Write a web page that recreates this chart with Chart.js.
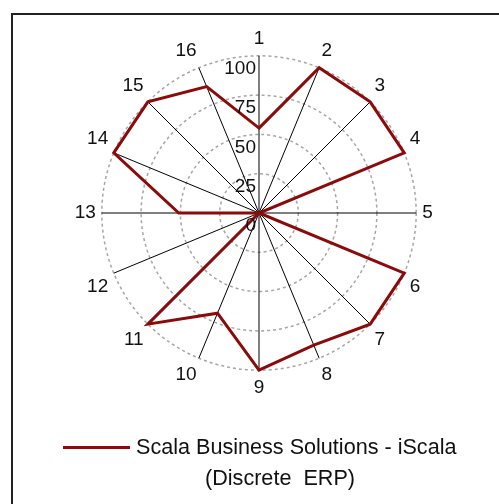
<!DOCTYPE html>
<html>
<head>
<meta charset="utf-8">
<script src="https://cdn.jsdelivr.net/npm/chart.js@4/dist/chart.umd.min.js"></script>
<style>
  html, body { margin: 0; padding: 0; background: #fff; }
  #wrap { position: relative; width: 499px; height: 504px; overflow: hidden; font-family: "Liberation Sans", Arial, sans-serif; }
  #frame { position: absolute; left: 11px; top: 13px; width: 600px; height: 600px; border: 2px solid #222; box-sizing: border-box; }
  canvas { position: absolute; left: 0; top: 0; }
  #leg1 { position: absolute; left: 63px; top: 433px; white-space: pre; font-size: 21.6px; color: #111; line-height: 28px; }
  #leg1 .swatch { display: inline-block; width: 67px; height: 3px; background: #8b0a0a; vertical-align: middle; margin-right: 6px; position: relative; top: -1px; }
  #leg2 { position: absolute; left: 205px; top: 464px; white-space: pre; font-size: 21.6px; color: #111; line-height: 28px; }
</style>
</head>
<body>
<div id="wrap">
  <div id="frame"></div>
  <canvas id="c" width="499" height="504"></canvas>
  <div id="leg1"><span class="swatch"></span><span id="legText1"></span></div>
  <div id="leg2"></div>
</div>
<script>
const categories = ["1","2","3","4","5","6","7","8","9","10","11","12","13","14","15","16"];
const seriesName = "Scala Business Solutions - iScala";
const seriesNameLine2 = "(Discrete  ERP)";
const iScalaValues = [54, 100, 100, 100, 0, 100, 100, 91, 100, 69, 100, 0, 51, 100, 100, 87];
const tickValues = [0, 25, 50, 75, 100];

document.getElementById('legText1').textContent = seriesName;
document.getElementById('leg2').textContent = seriesNameLine2;

const tickLabelPlugin = {
  id: 'tickLabels',
  afterDatasetsDraw(chart) {
    const s = chart.scales.r;
    const ctx = chart.ctx;
    ctx.save();
    ctx.font = '19px "Liberation Sans", Arial, sans-serif';
    ctx.fillStyle = '#111';
    ctx.textAlign = 'right';
    ctx.textBaseline = 'middle';
    tickValues.forEach(v => {
      const d = s.getDistanceFromCenterForValue(v);
      ctx.fillText(String(v), s.xCenter - 3, s.yCenter - d + 13);
    });
    ctx.restore();
  }
};

new Chart(document.getElementById('c'), {
  type: 'radar',
  data: {
    labels: categories,
    datasets: [{
      label: seriesName,
      data: iScalaValues,
      borderColor: '#8b0a0a',
      borderWidth: 3,
      fill: false,
      pointRadius: 0,
      pointHoverRadius: 0,
      tension: 0
    }]
  },
  options: {
    responsive: false,
    animation: false,
    devicePixelRatio: 1,
    layout: { padding: { left: 66, right: 57, top: 28, bottom: 104 } },
    plugins: { legend: { display: false }, tooltip: { enabled: false } },
    scales: {
      r: {
        min: 0,
        max: 100,
        startAngle: 0,
        ticks: { display: false, stepSize: 25 },
        grid: { circular: true, color: '#a6a6a6', lineWidth: 1.5 },
        border: { dash: [3, 3] },
        angleLines: { color: '#000', lineWidth: 1 },
        pointLabels: {
          display: true,
          padding: 6,
          color: '#111',
          font: { family: '"Liberation Sans", Arial, sans-serif', size: 19 }
        }
      }
    }
  },
  plugins: [tickLabelPlugin]
});
</script>
</body>
</html>
